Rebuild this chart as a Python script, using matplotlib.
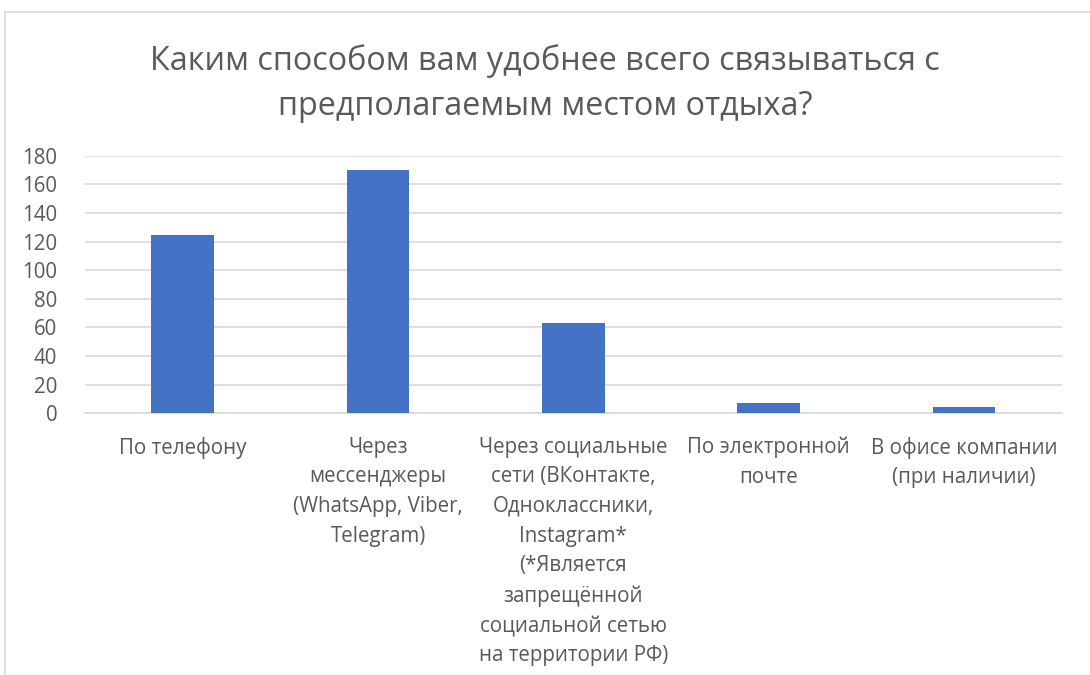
import matplotlib.pyplot as plt
from matplotlib.lines import Line2D

plt.rcParams['font.family'] = ['Open Sans', 'DejaVu Sans']

# Ответы на вопрос о способе связи
categories = [
    'По телефону',
    'Через\nмессенджеры\n(WhatsApp, Viber,\nTelegram)',
    'Через социальные\nсети (ВКонтакте,\nОдноклассники,\nInstagram*\n(*Является\nзапрещённой\nсоциальной сетью\nна территории РФ)',
    'По электронной\nпочте',
    'В офисе компании\n(при наличии)',
]
counts = [125, 170, 63, 7, 4]
y_ticks = list(range(0, 181, 20))

text_color = '#595959'
bar_color = '#4472C4'
grid_color = '#D9D9D9'

fig = plt.figure(figsize=(10.9, 6.75), dpi=100)
ax = fig.add_axes([0.078, 0.388, 0.896, 0.381])

x = range(len(categories))
ax.bar(x, counts, width=0.32, color=bar_color, zorder=3)

ax.set_xlim(-0.5, len(categories) - 0.5)
ax.set_ylim(0, 180)
ax.set_yticks(y_ticks)
ax.set_xticks(list(x))
ax.set_xticklabels(categories, linespacing=1.54)
ax.grid(axis='y', color=grid_color, linewidth=1.2, zorder=0)
for side in ['top', 'right', 'left']:
    ax.spines[side].set_visible(False)
ax.spines['bottom'].set_color(grid_color)
ax.spines['bottom'].set_linewidth(1.2)
ax.tick_params(axis='both', length=0, labelsize=14.8, colors=text_color)
ax.tick_params(axis='x', pad=17)
ax.tick_params(axis='y', pad=20)

fig.text(0.5, 0.876, 'Каким способом вам удобнее всего связываться с\nпредполагаемым местом отдыха?',
         ha='center', va='center', fontsize=23.3, color=text_color, linespacing=1.45)

# рамка области диаграммы
fig.add_artist(Line2D([5 / 1090, 5 / 1090], [0, 1 - 12 / 675], color=grid_color, lw=1.2))
fig.add_artist(Line2D([5 / 1090, 1], [1 - 12 / 675, 1 - 12 / 675], color=grid_color, lw=1.2))

fig.savefig('out.png', dpi=100, facecolor='white')
